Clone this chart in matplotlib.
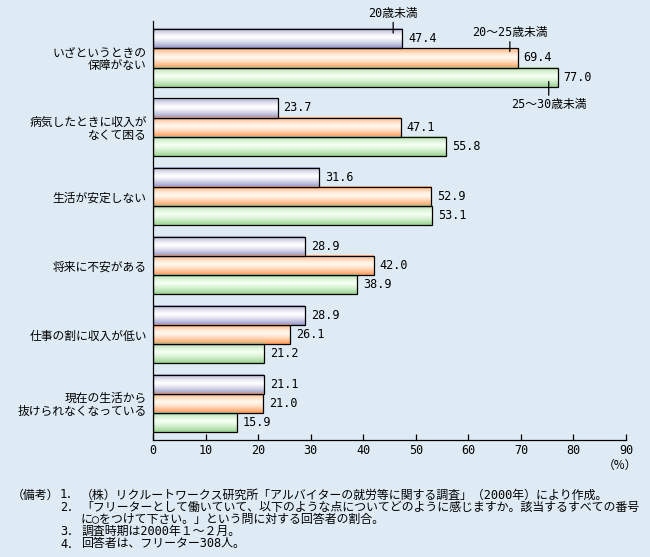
import numpy as np
import matplotlib
matplotlib.use("Agg")
import matplotlib.pyplot as plt
from matplotlib.colors import LinearSegmentedColormap

plt.rcParams['font.family'] = ['Noto Sans CJK JP', 'DejaVu Sans']
MIXED = ['DejaVu Sans Mono', 'Noto Sans CJK JP']

categories = [
    "いざというときの\n保障がない",
    "病気したときに収入が\nなくて困る",
    "生活が安定しない",
    "将来に不安がある",
    "仕事の割に収入が低い",
    "現在の生活から\n抜けられなくなっている",
]
series_names = ["20歳未満", "20〜25歳未満", "25〜30歳未満"]
under20 = [47.4, 23.7, 31.6, 28.9, 28.9, 21.1]
age20_25 = [69.4, 47.1, 52.9, 42.0, 26.1, 21.0]
age25_30 = [77.0, 55.8, 53.1, 38.9, 21.2, 15.9]
xticks = [0, 10, 20, 30, 40, 50, 60, 70, 80, 90]

notes = [
    ("（備考）", "1．", "（株）リクルートワークス研究所「アルバイターの就労等に関する調査」（2000年）により作成。"),
    ("", "2．", "「フリーターとして働いていて、以下のような点についてどのように感じますか。該当するすべての番号"),
    ("", "", "に○をつけて下さい。」という問に対する回答者の割合。"),
    ("", "3．", "調査時期は2000年１〜２月。"),
    ("", "4．", "回答者は、フリーター308人。"),
]

BG = '#DEEBF4'
grad_colors = [
    ('#9494C6', '#FFFFFF'),
    ('#FF9A56', '#FFF8EE'),
    ('#9AD290', '#F4FFF2'),
]

fig = plt.figure(figsize=(6.5, 5.57), dpi=100, facecolor=BG)
ax = fig.add_axes([153 / 650, 1 - 440 / 557, 473 / 650, 419 / 557])
ax.set_facecolor(BG)

n = len(categories)
centers = np.arange(n)[::-1].astype(float)
h = 0.277
offsets = [h, 0.0, -h]

t = np.linspace(0, 1, 60)
profile = np.clip(1 - np.abs((t - 0.45) / 0.55) ** 1.3, 0, 1)
grad = profile[:, None]

all_series = [under20, age20_25, age25_30]
bar_groups = []
for k, vals in enumerate(all_series):
    bars = ax.barh(centers + offsets[k], vals, height=h, facecolor='none',
                   edgecolor='black', linewidth=0.9, zorder=3)
    bar_groups.append(bars)
    cmap = LinearSegmentedColormap.from_list('g%d' % k, list(grad_colors[k]))
    for p, v in zip(bars.patches, vals):
        x0, y0, w, hh = p.get_x(), p.get_y(), p.get_width(), p.get_height()
        ax.imshow(grad, extent=[x0, x0 + w, y0, y0 + hh], origin='upper',
                  cmap=cmap, vmin=0, vmax=1, aspect='auto', zorder=2,
                  interpolation='bilinear')
        ax.annotate(f"{v:.1f}", xy=(x0 + w, y0 + hh / 2), xytext=(6, 0),
                    textcoords='offset pixels', ha='left', va='center',
                    fontsize=8.5, family='DejaVu Sans Mono', zorder=4)

ax.set_xlim(0, 90)
ax.set_ylim(-0.525, 5.535)
ax.set_xticks(xticks)
ax.set_xticklabels([str(x) for x in xticks], fontsize=8.5, family='DejaVu Sans Mono')
ax.set_yticks(centers)
ax.set_yticklabels(categories, fontsize=8.5)
for lab in ax.get_yticklabels():
    lab.set_linespacing(1.0)
    lab.set_multialignment('right')
ax.tick_params(axis='y', length=0, pad=4.5)
ax.tick_params(axis='x', direction='in', length=4.5, width=0.9, pad=3)
for s in ['top', 'right']:
    ax.spines[s].set_visible(False)
for s in ['left', 'bottom']:
    ax.spines[s].set_linewidth(0.9)

# series labels with leader lines
p0 = bar_groups[0].patches[0]
ax.annotate(series_names[0], xy=(under20[0] - 1.7, p0.get_y() + p0.get_height() - 0.055),
            xytext=(0, 20), textcoords='offset pixels', ha='center', va='center',
            fontsize=8.5, family=MIXED,
            arrowprops=dict(arrowstyle='-', lw=0.9, shrinkA=0, shrinkB=0))
p1 = bar_groups[1].patches[0]
ax.annotate(series_names[1], xy=(age20_25[0] - 1.5, p1.get_y() + p1.get_height() - 0.045),
            xytext=(0, 19), textcoords='offset pixels', ha='center', va='center',
            fontsize=8.5, family=MIXED,
            arrowprops=dict(arrowstyle='-', lw=0.9, shrinkA=0, shrinkB=0))
p2 = bar_groups[2].patches[0]
ax.annotate(series_names[2], xy=(age25_30[0] - 1.7, p2.get_y() + 0.075),
            xytext=(0, -23), textcoords='offset pixels', ha='center', va='center',
            fontsize=8.5, family=MIXED,
            arrowprops=dict(arrowstyle='-', lw=0.9, shrinkA=0, shrinkB=0))

fig.text(620 / 650, 1 - 465 / 557, "（%）", ha='center', va='center', fontsize=8.5)

ys = [495, 507.5, 519.5, 531.5, 544]
for (pre, num, body), y in zip(notes, ys):
    yy = 1 - y / 557
    if pre:
        fig.text(12 / 650, yy, pre, ha='left', va='center', fontsize=8.6)
    if num:
        fig.text(60 / 650, yy, num, ha='left', va='center', fontsize=8.6, family=MIXED)
    fig.text(81 / 650, yy, body, ha='left', va='center', fontsize=8.6, family=MIXED)

fig.savefig('out.png', dpi=100, facecolor=BG)
